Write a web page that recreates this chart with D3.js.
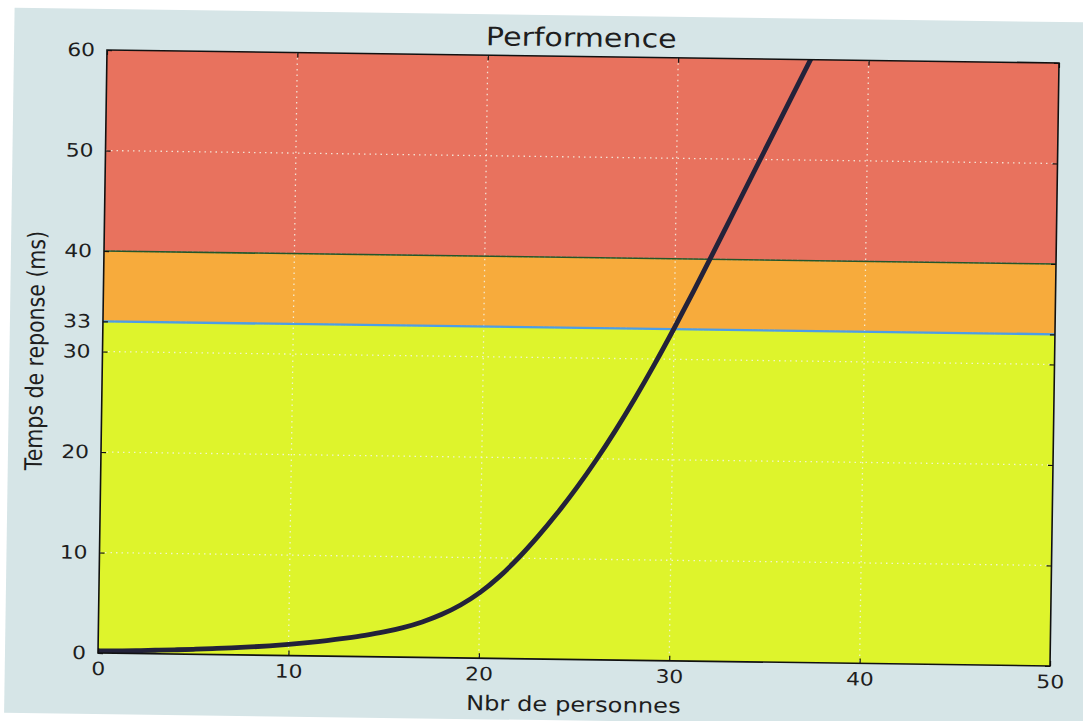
<!DOCTYPE html>
<html>
<head>
<meta charset="utf-8">
<script src="https://cdn.jsdelivr.net/npm/d3@7"></script>
<style>
  html, body { margin: 0; padding: 0; background: #ffffff; }
  svg { display: block; }
  text { font-family: "DejaVu Sans", "Bitstream Vera Sans", sans-serif; fill: #1e1e1e; }
</style>
</head>
<body>
<svg id="chart" width="1083" height="721"></svg>
<script>
// Response time (ms) against number of people
const personnes = [0, 1, 2, 3, 4, 5, 6, 7, 8, 9, 10, 11, 12, 13, 14, 15, 16, 17, 18, 19,
                   20, 21, 22, 23, 24, 25, 26, 27, 28, 29, 30, 31, 32, 33, 34, 35, 36, 37, 38];
const temps = [0.2, 0.24, 0.29, 0.35, 0.42, 0.5, 0.59, 0.69, 0.81, 0.95, 1.12, 1.32, 1.55, 1.82,
               2.12, 2.48, 2.94, 3.53, 4.29, 5.27, 6.52, 8.12, 10.02, 12.17, 14.52, 17.07, 19.85,
               22.85, 26.07, 29.49, 33.09, 36.84, 40.69, 44.59, 48.49, 52.39, 56.29, 60.19, 64.09];

// Tick labels
const xTicks = [0, 10, 20, 30, 40, 50];
const yTicks = [0, 10, 20, 30, 33, 40, 50, 60];

// Performance zones (bounds in ms) and their fills
const zoneBounds = [0, 33, 40, 60];
const zoneColors = ["#def42c", "#f7ab3c", "#e8725e"];

// Threshold lines
const thresholds = [33, 40];
const thresholdColors = ["#4d9de6", "#23562a"];

const titre = "Performence";
const xLabel = "Nbr de personnes";
const yLabel = "Temps de reponse (ms)";

// Plot geometry (the whole figure sits slightly tilted)
const W = 952, H = 603;
const STRETCH = 1.18;               // horizontal stretch of the lettering
const svg = d3.select("#chart");
const fig = svg.append("g")
  .attr("transform", "matrix(1,0.01366,-0.01493,1,107,50)");

// Figure background
fig.append("rect")
  .attr("x", -93).attr("y", -41)
  .attr("width", 1100).attr("height", 705)
  .attr("fill", "#d6e5e7");

const x = d3.scaleLinear().domain([0, 50]).range([0, W]);
const y = d3.scaleLinear().domain([0, 60]).range([H, 0]);

fig.append("defs").append("clipPath").attr("id", "plotclip")
  .append("rect").attr("width", W).attr("height", H);

const plot = fig.append("g");

// Zone fills
const zones = zoneColors.map((c, i) => ({ lo: zoneBounds[i], hi: zoneBounds[i + 1], color: c }));
plot.selectAll("rect.zone").data(zones).join("rect")
  .attr("class", "zone")
  .attr("x", 0)
  .attr("width", W)
  .attr("y", d => y(d.hi))
  .attr("height", d => y(d.lo) - y(d.hi))
  .attr("fill", d => d.color);

// Dotted grid
const grid = plot.append("g")
  .attr("stroke", "#f4f4e8")
  .attr("stroke-opacity", 0.85)
  .attr("stroke-width", 1.3)
  .attr("stroke-dasharray", "1.5,4");
grid.selectAll("line.gx").data(xTicks.slice(1, -1)).join("line")
  .attr("x1", d => x(d)).attr("x2", d => x(d))
  .attr("y1", 0).attr("y2", H);
grid.selectAll("line.gy").data(yTicks.slice(1, -1)).join("line")
  .attr("x1", 0).attr("x2", W)
  .attr("y1", d => y(d)).attr("y2", d => y(d));

// Threshold lines
plot.selectAll("line.seuil").data(thresholds).join("line")
  .attr("class", "seuil")
  .attr("x1", 0).attr("x2", W)
  .attr("y1", d => y(d)).attr("y2", d => y(d))
  .attr("stroke", (d, i) => thresholdColors[i])
  .attr("stroke-width", (d, i) => i === 0 ? 2.4 : 1.6);

// Response-time curve
const line = d3.line()
  .x((d, i) => x(personnes[i]))
  .y(d => y(d))
  .curve(d3.curveMonotoneX);
plot.append("path")
  .datum(temps)
  .attr("clip-path", "url(#plotclip)")
  .attr("d", line)
  .attr("fill", "none")
  .attr("stroke", "#23223a")
  .attr("stroke-width", 4.8)
  .attr("stroke-linejoin", "round");

// Axes with inward ticks on all four sides
const tickFont = 18.5;
function styleAxis(g) {
  g.select(".domain").remove();
  g.selectAll(".tick line").attr("stroke", "#111").attr("stroke-width", 1.2);
  g.selectAll("text").attr("font-size", tickFont).attr("fill", "#1e1e1e");
}

const gx = fig.append("g").attr("transform", `translate(0,${H})`)
  .call(d3.axisBottom(x).tickValues(xTicks).tickSize(-5).tickPadding(9).tickFormat(d3.format("d")))
  .call(styleAxis);
gx.selectAll("text").attr("transform", `scale(${STRETCH},1)`);

const gy = fig.append("g")
  .call(d3.axisLeft(y).tickValues(yTicks).tickSize(-5).tickPadding(12).tickFormat(d3.format("d")))
  .call(styleAxis);
gy.selectAll("text")
  .attr("x", -12 / STRETCH)
  .attr("transform", `scale(${STRETCH},1)`);

fig.append("g").attr("transform", `translate(${W},0)`)
  .call(d3.axisRight(y).tickValues(yTicks).tickSize(-5).tickFormat(""))
  .call(styleAxis);
fig.append("g")
  .call(d3.axisTop(x).tickValues(xTicks).tickSize(-5).tickFormat(""))
  .call(styleAxis);

// Frame
fig.append("rect")
  .attr("width", W).attr("height", H)
  .attr("fill", "none")
  .attr("stroke", "#111")
  .attr("stroke-width", 1.6);

// Title and axis labels
fig.append("g").attr("transform", `translate(${W / 2 - 2},-10) scale(${STRETCH},1)`)
  .append("text")
  .attr("text-anchor", "middle")
  .attr("font-size", 25.5)
  .text(titre);

fig.append("g").attr("transform", `translate(${W / 2},${H + 52}) scale(${STRETCH},1)`)
  .append("text")
  .attr("text-anchor", "middle")
  .attr("font-size", 20.5)
  .text(xLabel);

fig.append("g").attr("transform", `translate(-59,${H / 2}) scale(${STRETCH},1) rotate(-90)`)
  .append("text")
  .attr("text-anchor", "middle")
  .attr("font-size", 20.5)
  .text(yLabel);
</script>
</body>
</html>
